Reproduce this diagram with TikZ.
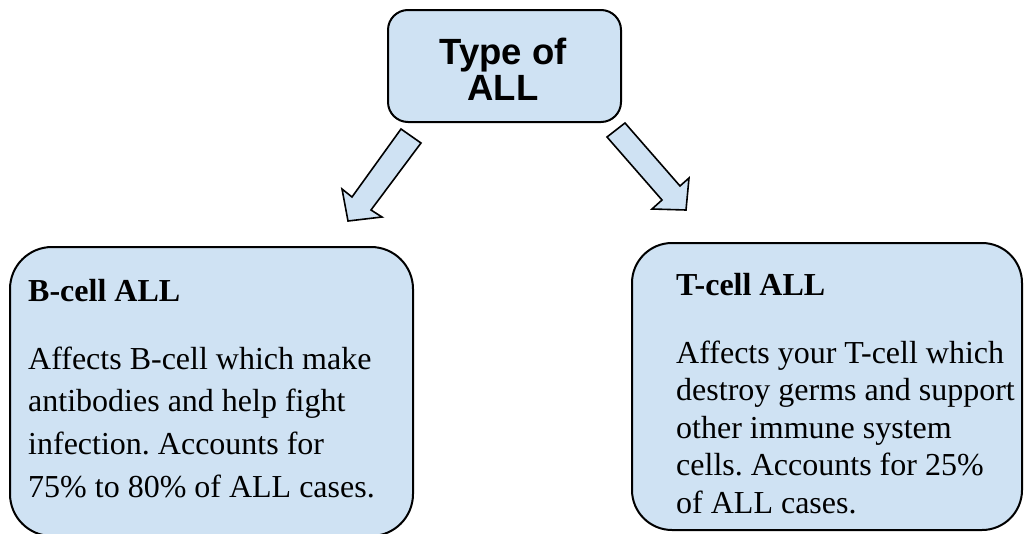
\documentclass[tikz,border=0pt]{standalone}
\usepackage{fontspec}
\setmainfont{Liberation Serif}
\newfontfamily\headfont{Liberation Sans}
\definecolor{boxblue}{HTML}{CFE2F3}
\frenchspacing
\begin{document}
\begin{tikzpicture}[x=1pt,y=-1pt,
  panel/.style={draw=black, line width=2pt, fill=boxblue, inner sep=0pt},
  blockarrow/.style={draw=black, line width=1.6pt, fill=boxblue, line join=miter},
  headtxt/.style={anchor=base, inner sep=0pt, font=\headfont\bfseries\fontsize{36.5}{36.5}\selectfont},
  titletxt/.style={anchor=base west, inner sep=0pt, font=\bfseries\fontsize{32}{38}\selectfont},
  bodytxt/.style={anchor=base west, inner sep=0pt, font=\fontsize{32}{38}\selectfont}]
\clip (0,0) rectangle (1025,533);
\fill[white] (0,0) rectangle (1025,533);
% boxes
\node[panel, rounded corners=20pt, minimum width=233pt, minimum height=112pt] (top) at (504.5,66) {};
\node[panel, rounded corners=42pt, minimum width=403pt, minimum height=289pt] (bbox) at (211.5,391.5) {};
\node[panel, rounded corners=40pt, minimum width=390pt, minimum height=287pt] (tbox) at (827,386.5) {};
% block arrows
\draw[blockarrow] (401,129) -- (352,197) -- (342,189) -- (348,221) -- (382,217) -- (371,210) -- (421,143) -- cycle;
\draw[blockarrow] (625,123) -- (680,186) -- (689,178) -- (686,210) -- (652,209) -- (662,200) -- (607,137) -- cycle;
% top text
\node[headtxt] (h1) at (503,64) {Type of};
\node[headtxt] (h2) at (503,100) {ALL};
% left text
\node[titletxt] (bt) at (28,301) {B-cell ALL};
\node[bodytxt] (b1) at (28,369) {Affects B-cell which make};
\node[bodytxt] (b2) at (28,411.7) {antibodies and help fight};
\node[bodytxt] (b3) at (28,454.4) {infection. Accounts for};
\node[bodytxt] (b4) at (28,497) {75\% to 80\% of ALL cases.};
% right text
\node[titletxt] (tt) at (676,295) {T-cell ALL};
\node[bodytxt] (t1) at (676,363) {Affects your T-cell which};
\node[bodytxt] (t2) at (676,400.5) {destroy germs and support};
\node[bodytxt] (t3) at (676,438) {other immune system};
\node[bodytxt] (t4) at (676,475.5) {cells. Accounts for 25\%};
\node[bodytxt] (t5) at (676,513) {of ALL cases.};
\end{tikzpicture}
\end{document}
